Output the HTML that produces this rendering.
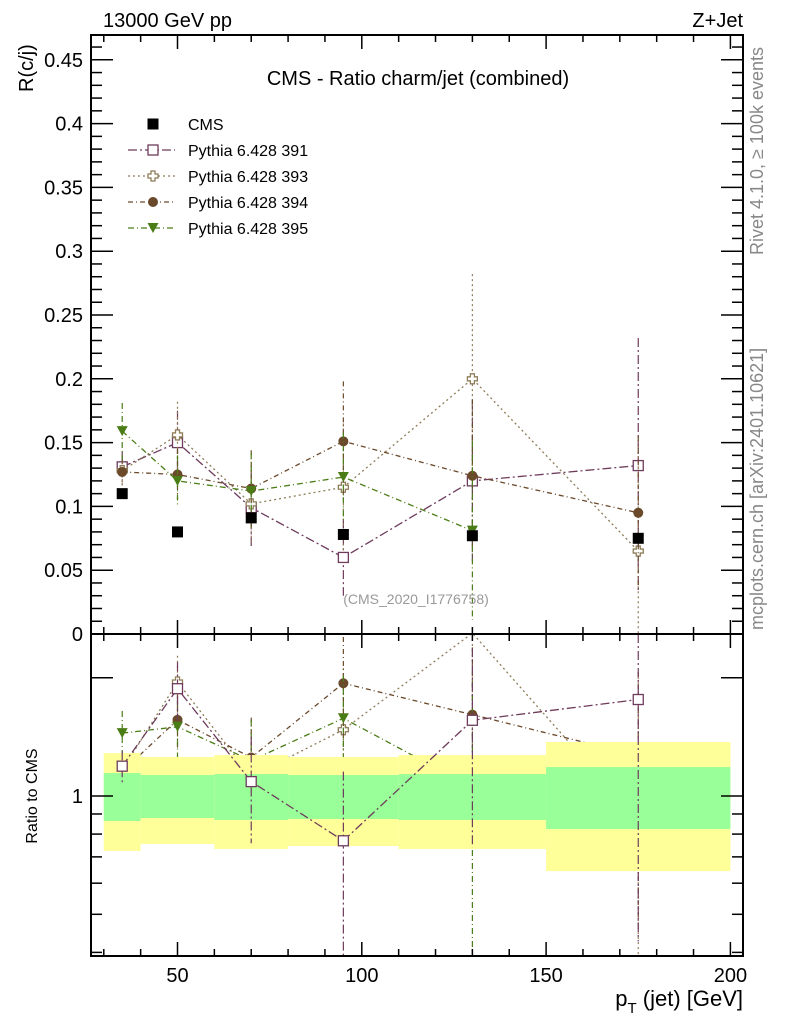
<!DOCTYPE html>
<html><head><meta charset="utf-8"><style>
body{margin:0;background:#fff}
svg{display:block;font-family:"Liberation Sans",Arial,sans-serif}
</style></head><body>
<svg id="chart" width="786" height="1024" viewBox="0 0 786 1024" xmlns="http://www.w3.org/2000/svg">
<g id="under"></g><g id="band"></g><g id="over"></g><g id="axes"></g>
<text x="103" y="27" font-size="20">13000 GeV pp</text>
<text x="743" y="27" font-size="20" text-anchor="end">Z+Jet</text>
<text x="418" y="85" font-size="20" text-anchor="middle">CMS - Ratio charm/jet (combined)</text>
<text x="416" y="604" font-size="14" fill="#999" text-anchor="middle">(CMS_2020_I1776758)</text>
<text transform="translate(33,92) rotate(-90)" font-size="20">R(c/j)</text>
<text transform="translate(37,796) rotate(-90)" font-size="16" text-anchor="middle">Ratio to CMS</text>
<text transform="translate(763,255) rotate(-90)" font-size="18" fill="#888">Rivet 4.1.0, ≥ 100k events</text>
<text transform="translate(763,630) rotate(-90)" font-size="18" fill="#888">mcplots.cern.ch [arXiv:2401.10621]</text>
<text x="743" y="1006" font-size="22" text-anchor="end">p<tspan font-size="15" dy="7">T</tspan><tspan dy="-7"> (jet) [GeV]</tspan></text>
<g id="legend"></g>
</svg>
<script>
const xValues=[35,50,70,95,130,175];
const cmsValues=[0.110,0.080,0.091,0.078,0.077,0.075];
const s391=[0.131,0.150,0.099,0.060,0.120,0.132];
const s393=[0.128,0.156,0.102,0.115,0.200,0.065];
const s394=[0.127,0.125,0.114,0.151,0.124,0.095];
const s395=[0.159,0.120,0.112,0.123,0.081];
const e391=[0.012,0.025,0.03,0.03,0.063,0.10];
const e393=[0.012,0.026,0.03,0.05,0.082,0.09];
const e394=[0.01,0.02,0.03,0.047,0.06,0.06];
const e395=[0.022,0.02,0.03,0.035,0.07];
const binEdges=[30,40,60,80,110,150,200];
const yellowHi=[1.286,1.257,1.271,1.257,1.271,1.372];
const greenHi=[1.144,1.131,1.137,1.131,1.137,1.185];
const greenLo=[0.864,0.879,0.869,0.874,0.869,0.824];
const yellowLo=[0.725,0.755,0.733,0.746,0.733,0.644];
const yTicks=[0,0.05,0.1,0.15,0.2,0.25,0.3,0.35,0.4,0.45];
const yTickLabels=["0","0.05","0.1","0.15","0.2","0.25","0.3","0.35","0.4","0.45"];
const xTicks=[50,100,150,200];

const NS="http://www.w3.org/2000/svg";
const L=91,R=743,T=35,MB=634,RB=956;
const X=v=>177.5+(v-50)*3.686;
const Y=v=>634-v*1276;
const RY=r=>796-393*Math.log10(r);
function mk(tag,at,parent){const e=document.createElementNS(NS,tag);for(const k in at)e.setAttribute(k,at[k]);document.getElementById(parent).appendChild(e);return e;}
const clamp=(v,a,b)=>Math.max(a,Math.min(b,v));

const series=[
 {name:"391",vals:s391,err:e391,col:"#6e3b5c",dash:"9,3,2,3",mark:"sq",layer:"over"},
 {name:"393",vals:s393,err:e393,col:"#8e7d58",dash:"2,3",mark:"cross",layer:"under"},
 {name:"394",vals:s394,err:e394,col:"#6b4a2c",dash:"5,3,1,3",mark:"circ",layer:"under"},
 {name:"395",vals:s395,err:e395,col:"#4b7d17",dash:"6,3,1,3",mark:"tri",layer:"under"}
];

function marker(type,x,y,col,parent,name){
 let e;
 if(type==="sq")e=mk("rect",{x:x-5,y:y-5,width:10,height:10,fill:"#fff",stroke:col,"stroke-width":1.3},parent);
 else if(type==="cross")e=mk("path",{d:`M${x-2},${y-5}h4v3h3v4h-3v3h-4v-3h-3v-4h3z`,fill:"#fff",stroke:col,"stroke-width":1.3},parent);
 else if(type==="circ")e=mk("circle",{cx:x,cy:y,r:5,fill:col},parent);
 else if(type==="tri")e=mk("path",{d:`M${x-5.5},${y-5}h11l-5.5,10z`,fill:col},parent);
 else e=mk("rect",{x:x-5.5,y:y-5.5,width:11,height:11,fill:"#000"},parent);
 
 
 return e;
}

for(let i=0;i<yellowHi.length;i++){
 const x0=X(binEdges[i]),w=X(binEdges[i+1])-x0;
 const yb=mk("rect",{x:x0,y:RY(yellowHi[i]),width:w,height:RY(yellowLo[i])-RY(yellowHi[i]),fill:"#ffff99"},"band");
 
 
 const gb=mk("rect",{x:x0,y:RY(greenHi[i]),width:w,height:RY(greenLo[i])-RY(greenHi[i]),fill:"#99ff99"},"band");
 
 
}

series.forEach(s=>{
 const n=s.vals.length;
 let p="",rp="";
 for(let i=0;i<n;i++){const x=X(xValues[i]);p+=(i?"L":"M")+x+","+Y(s.vals[i]);rp+=(i?"L":"M")+x+","+clamp(RY(s.vals[i]/cmsValues[i]),T,RB);}
 const ln=mk("path",{d:p,fill:"none",stroke:s.col,"stroke-width":1.3,"stroke-dasharray":s.dash},"over");
 
 
 const rl=mk("path",{d:rp,fill:"none",stroke:s.col,"stroke-width":1.3,"stroke-dasharray":s.dash},s.layer);
 
 
 for(let i=0;i<n;i++){
  const x=X(xValues[i]),v=s.vals[i],e=s.err[i];
  const y1=clamp(Y(v+e),T,MB),y2=clamp(Y(v-e),T,MB);
  const eb=mk("line",{x1:x,x2:x,y1:y1,y2:y2,stroke:s.col,"stroke-width":1.2,"stroke-dasharray":s.dash},"over");
  
  
  const c=cmsValues[i];
  const r1=clamp(RY((v+e)/c),MB,RB),r2=clamp(RY(Math.max(v-e,0.001)/c),MB,RB);
  const re=mk("line",{x1:x,x2:x,y1:r1,y2:r2,stroke:s.col,"stroke-width":1.2,"stroke-dasharray":s.dash},s.layer);
  
  
  marker(s.mark,x,Y(v),s.col,"over",'point-pythia-'+s.name);
  const ry=RY(v/c);
  if(ry>MB&&ry<RB)marker(s.mark,x,ry,s.col,s.layer,'ratio-point-pythia-'+s.name);
 }
});
cmsValues.forEach((v,i)=>{marker("cms",X(xValues[i]),Y(v),"#000","over",'point-cms');});

function frame(y0,y1,name){const f=mk("rect",{x:L,y:y0,width:R-L,height:y1-y0,fill:"none",stroke:"#000","stroke-width":2},"axes");
 
 }
frame(T,MB,'main-frame');frame(MB,RB,'ratio-frame');
function tk(x1,y1,x2,y2,w){mk("line",{x1,y1,x2,y2,stroke:"#000","stroke-width":w||1.5},"axes");}
for(let v=30;v<=200;v+=10){const x=X(v),len=v%50===0?14:7;
 [[T,1],[MB,-1],[MB,1],[RB,-1]].forEach(([y,d])=>tk(x,y,x,y+d*len));}
xTicks.forEach(v=>{const t=mk("text",{x:X(v),y:982,"font-size":20,"text-anchor":"middle"},"axes");t.textContent=v;
 
 });
for(let k=0;k<=47;k++){const v=k/100,y=Y(v);if(y<T)break;const len=k%5===0?22:11;tk(L,y,L+len,y);tk(R,y,R-len,y);}
yTicks.forEach((v,i)=>{const t=mk("text",{x:83,y:Y(v)+7,"font-size":20,"text-anchor":"end"},"axes");t.textContent=yTickLabels[i];
 
 });
[0.4,0.5,0.6,0.7,0.8,0.9,1,2].forEach(r=>{const y=RY(r),len=(r===1||r===2)?22:11;tk(L,y,L+len,y);tk(R,y,R-len,y);});
const one=mk("text",{x:83,y:RY(1)+7,"font-size":20,"text-anchor":"end"},"axes");one.textContent="1";



const legNames=["CMS","Pythia 6.428 391","Pythia 6.428 393","Pythia 6.428 394","Pythia 6.428 395"];
legNames.forEach((nm,i)=>{const y=124+i*26;
 if(i>0){const s=series[i-1];const l=mk("line",{x1:128,x2:175,y1:y,y2:y,stroke:s.col,"stroke-width":1.3,"stroke-dasharray":s.dash},"legend");
  
  
  marker(s.mark,153,y,s.col,"legend",'legend-marker');}
 else marker("cms",153,y,"#000","legend",'legend-marker');
 const t=mk("text",{x:188,y:y+6,"font-size":16},"legend");t.textContent=nm;
 
 
});
</script>
</body></html>
